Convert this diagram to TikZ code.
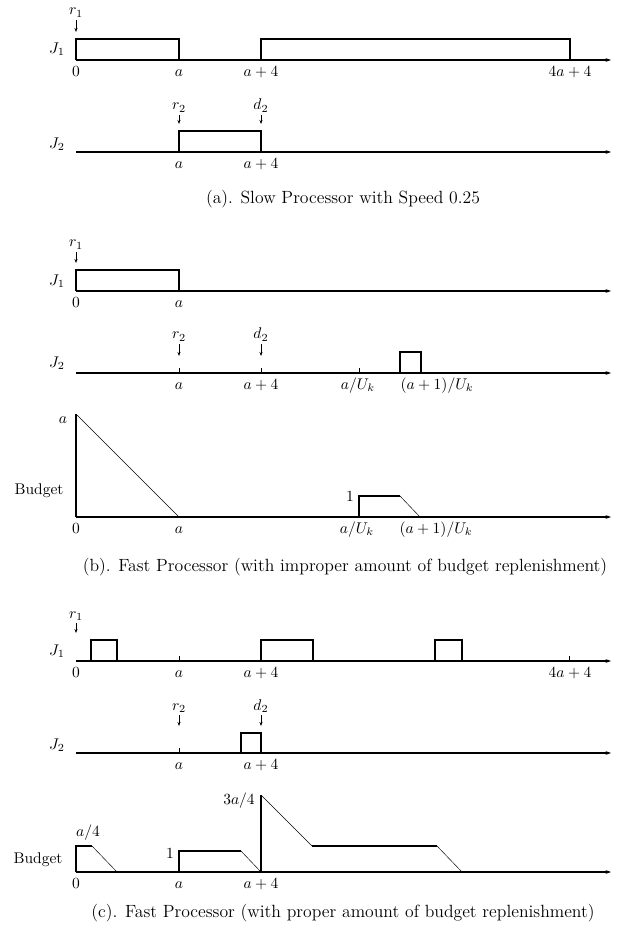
\documentclass[tikz,border=0pt]{standalone}
\usepackage{amsmath}
\usepackage{tikz}
\usetikzlibrary{arrows.meta}

\begin{document}
\begin{tikzpicture}[x=0.645pt, y=-0.645pt,
  axis/.style={line width=0.8pt, -{Stealth[length=3.5pt,width=2.4pt]}},
  job/.style={line width=0.7pt},
  slope/.style={line width=0.3pt},
  release/.style={line width=0.5pt, -{Stealth[length=2.6pt,width=2pt]}},
  tick/.style={line width=0.6pt},
  time/.style={below=3pt, inner sep=1pt, text height=1.5ex, text depth=0.25ex},
  eventlab/.style={anchor=base, inner sep=1pt},
  caption/.style={font=\fontsize{11.4}{13}\selectfont},
]
\useasboundingbox (0,0) rectangle (625,938);

% ---------------- (a) slow processor ----------------
% J1
\node (aJ1) at (57,49) {$J_1$};
\coordinate (aJ1o) at (76,60);
\coordinate (aJ1e) at (611,60);
\draw[axis] (aJ1o) -- (aJ1e);
\draw[job] (76,60) |- (179,39) -- (179,60);
\draw[job] (261,60) |- (570,39) -- (570,60);
\node[time] (aJ1t0) at (76,60) {$0$};
\node[time] (aJ1ta) at (179,60) {$a$};
\node[time] (aJ1tb) at (261,60) {$a+4$};
\node[time] (aJ1tc) at (570,60) {$4a+4$};
\node[eventlab] (ar1) at (76,15) {$r_1$};
\coordinate (ar1t) at (76,32);
\draw[release] (ar1.base) ++(0,5) -- (ar1t);

% J2
\node (aJ2) at (57,144) {$J_2$};
\coordinate (aJ2o) at (76,152);
\coordinate (aJ2e) at (611,152);
\draw[axis] (aJ2o) -- (aJ2e);
\draw[job] (179,152) |- (261,131) -- (261,152);
\node[time] (aJ2ta) at (179,152) {$a$};
\node[time] (aJ2tb) at (261,152) {$a+4$};
\node[eventlab] (ar2) at (179,110) {$r_2$};
\coordinate (ar2t) at (179,124);
\draw[release] (ar2.base) ++(0,5) -- (ar2t);
\node[eventlab] (ad2) at (261,110) {$d_2$};
\coordinate (ad2t) at (261,124);
\draw[release] (ad2.base) ++(0,5) -- (ad2t);

\node[caption] (capa) at (343,199) {(a). Slow Processor with Speed 0.25};

% ---------------- (b) improper replenishment ----------------
% J1
\node (bJ1) at (57,281) {$J_1$};
\coordinate (bJ1o) at (76,291);
\coordinate (bJ1e) at (611,291);
\draw[axis] (bJ1o) -- (bJ1e);
\draw[job] (76,291) |- (179,270) -- (179,291);
\node[time] (bJ1t0) at (76,291) {$0$};
\node[time] (bJ1ta) at (179,291) {$a$};
\node[eventlab] (br1) at (76,247) {$r_1$};
\coordinate (br1t) at (76,263);
\draw[release] (br1.base) ++(0,5) -- (br1t);

% J2
\node (bJ2) at (57,363) {$J_2$};
\coordinate (bJ2o) at (76,373);
\coordinate (bJ2e) at (611,373);
\draw[axis] (bJ2o) -- (bJ2e);
\draw[tick] (179,373) -- ++(0,-5);
\draw[tick] (261,373) -- ++(0,-5);
\draw[tick] (359,373) -- ++(0,-5);
\draw[job] (400,373) |- (421,352) -- (421,373);
\node[time] (bJ2ta) at (179,373) {$a$};
\node[time] (bJ2tb) at (261,373) {$a+4$};
\node[time] (bJ2tc) at (358,373) {$a/U_k$};
\node[time] (bJ2td) at (437,373) {$(a+1)/U_k$};
\node[eventlab] (br2) at (179,339) {$r_2$};
\coordinate (br2t) at (179,356);
\draw[release] (br2.base) ++(0,5) -- (br2t);
\node[eventlab] (bd2) at (261,339) {$d_2$};
\coordinate (bd2t) at (261,356);
\draw[release] (bd2.base) ++(0,5) -- (bd2t);

% Budget
\node (bB) at (39,491) {Budget};
\coordinate (bBo) at (76,517);
\coordinate (bBe) at (611,517);
\coordinate (bBy) at (76,414);
\draw[axis] (bBo) -- (bBe);
\draw[job] (bBo) -- (bBy);
\draw[slope] (bBy) -- (179,517);
\draw[job] (359,517) |- (400,496);
\draw[slope] (400,496) -- (420,517);
\node (bBa) at (63,420) {$a$};
\node (bB1) at (350,497) {$1$};
\node[time] (bBt0) at (76,517) {$0$};
\node[time] (bBta) at (179,517) {$a$};
\node[time] (bBtc) at (357,517) {$a/U_k$};
\node[time] (bBtd) at (436,517) {$(a+1)/U_k$};

\node[caption] (capb) at (345,567) {(b). Fast Processor (with improper amount of budget replenishment)};

% ---------------- (c) proper replenishment ----------------
% J1
\node (cJ1) at (57,651) {$J_1$};
\coordinate (cJ1o) at (76,661);
\coordinate (cJ1e) at (611,661);
\draw[axis] (cJ1o) -- (cJ1e);
\draw[tick] (179,661) -- ++(0,-5);
\draw[tick] (569,661) -- ++(0,-5);
\draw[job] (91,661) |- (117,640) -- (117,661);
\draw[job] (261,661) |- (313,640) -- (313,661);
\draw[job] (435,661) |- (462,640) -- (462,661);
\node[time] (cJ1t0) at (76,661) {$0$};
\node[time] (cJ1ta) at (179,661) {$a$};
\node[time] (cJ1tb) at (261,661) {$a+4$};
\node[time] (cJ1tc) at (570,661) {$4a+4$};
\node[eventlab] (cr1) at (76,618) {$r_1$};
\coordinate (cr1t) at (76,633);
\draw[release] (cr1.base) ++(0,5) -- (cr1t);

% J2
\node (cJ2) at (57,745) {$J_2$};
\coordinate (cJ2o) at (76,753);
\coordinate (cJ2e) at (611,753);
\draw[axis] (cJ2o) -- (cJ2e);
\draw[tick] (179,753) -- ++(0,-5);
\draw[job] (241,753) rectangle (261,733);
\draw[line width=1.2pt] (241,753) -- (261,753);
\node[time] (cJ2ta) at (179,753) {$a$};
\node[time] (cJ2tb) at (261,753) {$a+4$};
\node[eventlab] (cr2) at (179,710) {$r_2$};
\coordinate (cr2t) at (179,726);
\draw[release] (cr2.base) ++(0,5) -- (cr2t);
\node[eventlab] (cd2) at (261,710) {$d_2$};
\coordinate (cd2t) at (261,726);
\draw[release] (cd2.base) ++(0,5) -- (cd2t);

% Budget
\node (cB) at (38,860) {Budget};
\coordinate (cBo) at (76,872);
\coordinate (cBe) at (611,872);
\draw[axis] (cBo) -- (cBe);
\draw[job] (cBo) |- (92,846);
\draw[slope] (92,846) -- (117,872);
\draw[job] (179,872) |- (241,851);
\draw[slope] (241,851) -- (261,872);
\draw[job] (261,872) -- (261,795);
\draw[slope] (261,795) -- (312,846);
\draw[job] (312,846) -- (437,846);
\draw[slope] (437,846) -- (462,872);
\node (cBq) at (88,833) {$a/4$};
\node (cB1) at (170,853) {$1$};
\node (cBr) at (239,801) {$3a/4$};
\node[time] (cBt0) at (76,872) {$0$};
\node[time] (cBta) at (179,872) {$a$};
\node[time] (cBtb) at (261,872) {$a+4$};

\node[caption] (capc) at (343,913) {(c). Fast Processor (with proper amount of budget replenishment)};

\end{tikzpicture}
\end{document}
